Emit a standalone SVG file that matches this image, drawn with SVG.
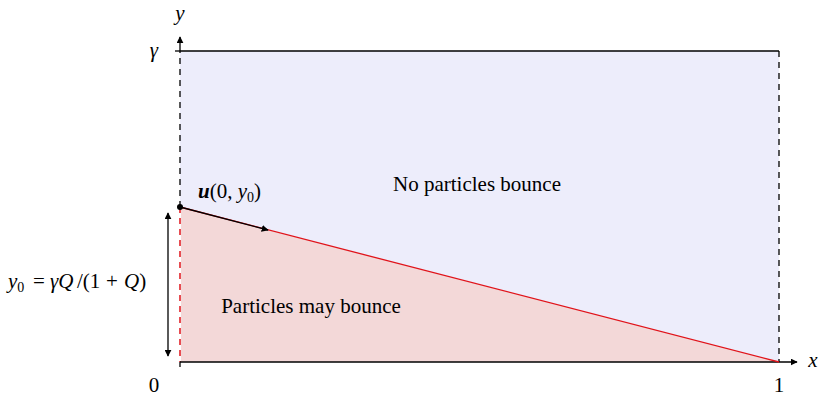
<svg xmlns="http://www.w3.org/2000/svg" width="818" height="397" viewBox="0 0 818 397">
<style>
text{font-family:"Liberation Serif","Times New Roman",serif;font-size:21px;fill:#000}
.ax{stroke:#000;stroke-width:1.3;fill:none}
.dash{stroke:#000;stroke-width:1.3;stroke-dasharray:6,5;fill:none}
</style>
<defs>
<marker id="ah" viewBox="0 0 10 10" refX="9" refY="5" markerWidth="7" markerHeight="7" markerUnits="userSpaceOnUse" orient="auto-start-reverse">
<path d="M0,0 L10,5 L0,10 z" fill="#000"/>
</marker>
</defs>
<g id="regions">
<polygon points="180,51 779,51 779,362 180,207" fill="#ededfb"/>
<polygon points="180,207 779,362 180,362" fill="#f3d8d8"/>
</g>
<g id="connectors">
<line class="ax" x1="180" y1="51" x2="779" y2="51"/>
<line class="dash" x1="779" y1="51" x2="779" y2="362"/>
<line class="dash" x1="180" y1="207" x2="180" y2="51"/>
<line class="ax" x1="180" y1="51" x2="180" y2="37" marker-end="url(#ah)"/>
<line class="ax" x1="175" y1="51" x2="180" y2="51"/>
<line stroke="#fff" stroke-width="2" x1="180" y1="207" x2="180" y2="362"/>
<line stroke="#e0131a" stroke-width="1.5" stroke-dasharray="6,5" x1="180" y1="207" x2="180" y2="362"/>
<line class="ax" x1="180" y1="362" x2="797" y2="362" marker-end="url(#ah)"/>
<line class="ax" x1="180" y1="362" x2="180" y2="367"/>
<line stroke="#e0131a" stroke-width="1.3" x1="180" y1="207" x2="779" y2="362"/>
<line class="ax" x1="180" y1="207" x2="268" y2="230" marker-end="url(#ah)"/>
<circle cx="180" cy="207" r="3" fill="#000"/>
<line class="ax" x1="168" y1="213" x2="168" y2="356" marker-start="url(#ah)" marker-end="url(#ah)"/>
</g>
<g id="labels">
<text x="180" y="20" text-anchor="middle" font-style="italic" font-size="22">y</text>
<text x="154" y="57" text-anchor="middle" font-style="italic">γ</text>
<text x="813" y="367" text-anchor="middle" font-style="italic">x</text>
<text x="154" y="392" text-anchor="middle">0</text>
<text x="779" y="392" text-anchor="middle">1</text>
<text x="477" y="191" text-anchor="middle">No particles bounce</text>
<text x="311" y="313" text-anchor="middle">Particles may bounce</text>
<text x="198" y="198"><tspan font-weight="bold" font-style="italic">u</tspan>(0, <tspan font-style="italic">y</tspan><tspan font-size="14" dy="4">0</tspan><tspan dy="-4">)</tspan></text>
<text y="288"><tspan x="8" font-style="italic">y</tspan><tspan font-size="14" dy="4">0</tspan><tspan x="33" dy="-4">=</tspan><tspan x="50" font-style="italic">γQ</tspan><tspan x="77">/(1</tspan><tspan x="106">+</tspan><tspan x="124" font-style="italic">Q</tspan>)</text>
</g>
</svg>
